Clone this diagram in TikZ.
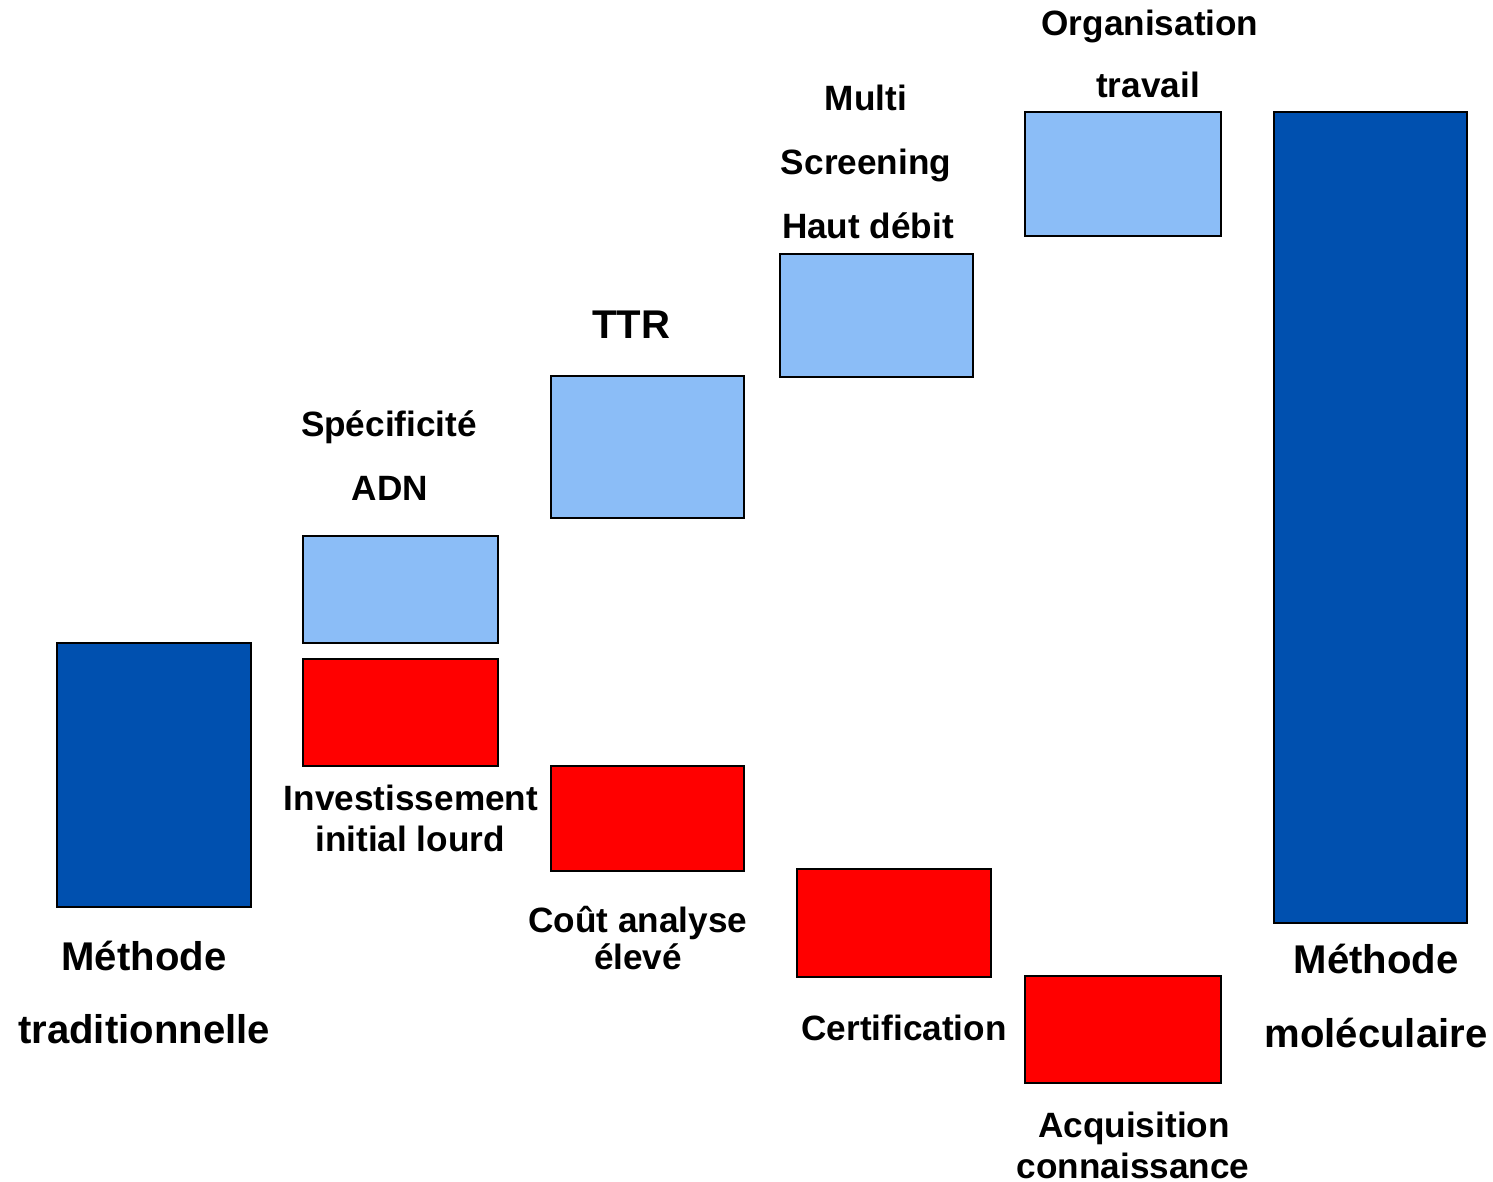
\documentclass[tikz,border=0pt]{standalone}
\usepackage{fontspec}
\setmainfont{Liberation Sans}
\definecolor{darkbar}{RGB}{0,80,175}
\definecolor{lightbar}{RGB}{139,189,247}
\definecolor{redbar}{RGB}{255,0,0}
\tikzset{
  bar/.style={draw=black, line width=0.7pt},
  lbl/.style={anchor=base, inner sep=0pt, font=\fontsize{10}{12}\selectfont\bfseries},
  biglbl/.style={anchor=base, inner sep=0pt, font=\fontsize{11.4}{13}\selectfont\bfseries}
}
\begin{document}
\begin{tikzpicture}[x=0.01cm,y=-0.01cm]
	\useasboundingbox (0,0) rectangle (1493,1181);
	% start and end
	\draw[bar, fill=darkbar] (57,643) rectangle (251,907);
	\draw[bar, fill=darkbar] (1274,112) rectangle (1467,923);
	\node[biglbl] (trad1) at (144,970) {Méthode};
	\node[biglbl] (trad2) at (144,1043) {traditionnelle};
	\node[biglbl] (mol1) at (1376,973) {Méthode};
	\node[biglbl] (mol2) at (1376,1047) {moléculaire};

	% gains
	\draw[bar, fill=lightbar] (303,536) rectangle (498,643);
	\draw[bar, fill=lightbar] (551,376) rectangle (744,518);
	\draw[bar, fill=lightbar] (780,254) rectangle (973,377);
	\draw[bar, fill=lightbar] (1025,112) rectangle (1221,236);
	\node[lbl] (spec) at (389,436) {Spécificité};
	\node[lbl] (adn) at (390,500) {ADN};
	\node[biglbl] (ttr) at (631,338) {TTR};
	\node[lbl] (multi) at (866,110) {Multi};
	\node[lbl] (screen) at (866,174) {Screening};
	\node[lbl] (haut) at (868,238) {Haut débit};
	\node[lbl] (orga) at (1150,35) {Organisation};
	\node[lbl] (trav) at (1148,97) {travail};

	% costs
	\draw[bar, fill=redbar] (303,659) rectangle (498,766);
	\draw[bar, fill=redbar] (551,766) rectangle (744,871);
	\draw[bar, fill=redbar] (797,869) rectangle (991,977);
	\draw[bar, fill=redbar] (1025,976) rectangle (1221,1083);
	\node[lbl] (inv1) at (411,810) {Investissement};
	\node[lbl] (inv2) at (410,851) {initial lourd};
	\node[lbl] (cout1) at (638,932) {Coût analyse};
	\node[lbl] (cout2) at (638,969) {élevé};
	\node[lbl] (certif) at (904,1040) {Certification};
	\node[lbl] (acq1) at (1134,1137) {Acquisition};
	\node[lbl] (acq2) at (1133,1178) {connaissance};
\end{tikzpicture}
\end{document}
